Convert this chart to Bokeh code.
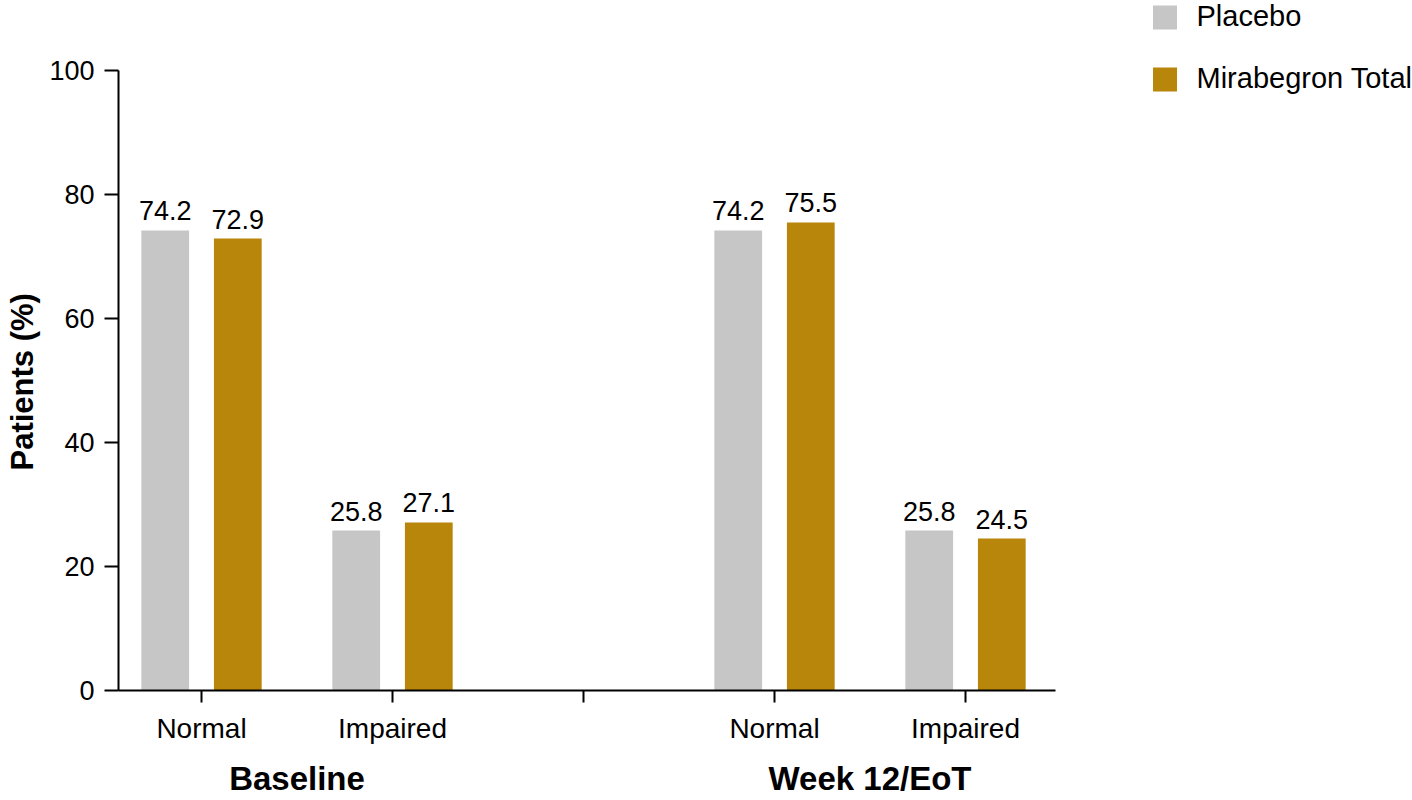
from bokeh.plotting import figure
from bokeh.models import (Range1d, FixedTicker, Legend, LegendItem,
                          ColumnDataSource, LinearAxis, Title)
from bokeh.transform import dodge
from bokeh.core.properties import value
from bokeh.embed import file_html
from bokeh.resources import INLINE

# ---- data ----
groups = ["Baseline", "Week 12/EoT"]
statuses = ["Normal", "Impaired"]
placebo = [74.2, 25.8, 74.2, 25.8]
mirabegron = [72.9, 27.1, 75.5, 24.5]
series_names = ["Placebo", "Mirabegron Total"]
y_ticks = [0, 20, 40, 60, 80, 100]
y_title = "Patients (%)"

FONT = "Liberation Sans"
GREY = "#c6c6c6"
GOLD = "#b8860b"

# positions: each group occupies len(statuses) slots plus one empty slot
step = len(statuses) + 1
positions = [gi * step + si for gi in range(len(groups)) for si in range(len(statuses))]
tick_positions = list(range(len(groups) * step - 1))
tick_labels = {t: "" for t in tick_positions}
for gi in range(len(groups)):
    for si, s in enumerate(statuses):
        tick_labels[gi * step + si] = s
group_centers = [gi * step + (len(statuses) - 1) / 2 for gi in range(len(groups))]
group_labels = {c: g for c, g in zip(group_centers, groups)}

src = ColumnDataSource(dict(
    x=positions,
    placebo=placebo,
    mirabegron=mirabegron,
    placebo_txt=[f"{v:.1f}" for v in placebo],
    mirabegron_txt=[f"{v:.1f}" for v in mirabegron],
))

# axis extents (visible axis lines) and the wider plotting area that also holds the legend
X_AXIS_BOUNDS = (-0.4346, 4.471)
Y_AXIS_BOUNDS = (0, 100)

p = figure(width=1412, height=800,
           x_range=Range1d(-0.4346, 6.3403), y_range=Range1d(0, 111.29),
           output_backend="svg", toolbar_location=None,
           min_border_left=118, min_border_right=0,
           min_border_top=0, min_border_bottom=110)
p.outline_line_color = None
p.xgrid.visible = False
p.ygrid.visible = False

off = 0.19
bw = 0.25
r1 = p.vbar(x=dodge("x", -off, range=p.x_range), top="placebo", width=bw,
            source=src, fill_color=GREY, line_color=None)
r2 = p.vbar(x=dodge("x", off, range=p.x_range), top="mirabegron", width=bw,
            source=src, fill_color=GOLD, line_color=None)

for col, d in (("placebo", -off), ("mirabegron", off)):
    p.text(x=dodge("x", d, range=p.x_range), y=col, text=col + "_txt", source=src,
           text_align="center", text_baseline="bottom", y_offset=-10,
           text_font=value(FONT), text_font_size=value("27px"), text_color="black")

# x axis (categories)
xa = p.xaxis[0]
xa.bounds = X_AXIS_BOUNDS
xa.ticker = FixedTicker(ticks=tick_positions)
xa.major_label_overrides = tick_labels
xa.minor_tick_line_color = None
xa.minor_tick_out = 0
xa.major_tick_in = 0
xa.major_tick_out = 12
xa.major_tick_line_width = 2
xa.axis_line_width = 2
xa.axis_line_color = "black"
xa.major_tick_line_color = "black"
xa.major_label_standoff = 10
xa.major_label_text_font = FONT
xa.major_label_text_font_size = "28px"
xa.major_label_text_color = "black"

# group label axis
ga = LinearAxis(ticker=FixedTicker(ticks=group_centers),
                major_label_overrides=group_labels,
                axis_line_color=None, major_tick_line_color=None,
                minor_tick_line_color=None, major_tick_in=0, major_tick_out=0,
                minor_tick_in=0, minor_tick_out=0, major_label_standoff=13,
                major_label_text_font=FONT, major_label_text_font_style="bold",
                major_label_text_font_size="33px", major_label_text_color="black")
p.add_layout(ga, "below")

# y axis
ya = p.yaxis[0]
ya.bounds = Y_AXIS_BOUNDS
ya.ticker = FixedTicker(ticks=y_ticks)
ya.minor_tick_line_color = None
ya.minor_tick_out = 0
ya.major_tick_in = 0
ya.major_tick_out = 14
ya.major_tick_line_width = 2
ya.axis_line_width = 2
ya.axis_line_color = "black"
ya.major_tick_line_color = "black"
ya.major_label_standoff = 10
ya.major_label_text_font = FONT
ya.major_label_text_font_size = "27px"
ya.major_label_text_color = "black"

# y axis title, placed along the visible axis (0-100) rather than the whole frame
p.add_layout(Title(text=y_title, align="left", offset=220, standoff=9,
                   vertical_align="top",
                   text_font=FONT, text_font_style="bold", text_font_size="31px",
                   text_color="black"), "left")

legend = Legend(items=[LegendItem(label=series_names[0], renderers=[r1]),
                       LegendItem(label=series_names[1], renderers=[r2])],
                location="top_right", padding=0, margin=0,
                border_line_color=None, background_fill_alpha=0,
                glyph_width=30, glyph_height=30, label_standoff=17, spacing=29,
                label_text_font=FONT, label_text_font_size="29px",
                label_text_color="black")
p.add_layout(legend)

open("out.html", "w").write(file_html(p, INLINE))
